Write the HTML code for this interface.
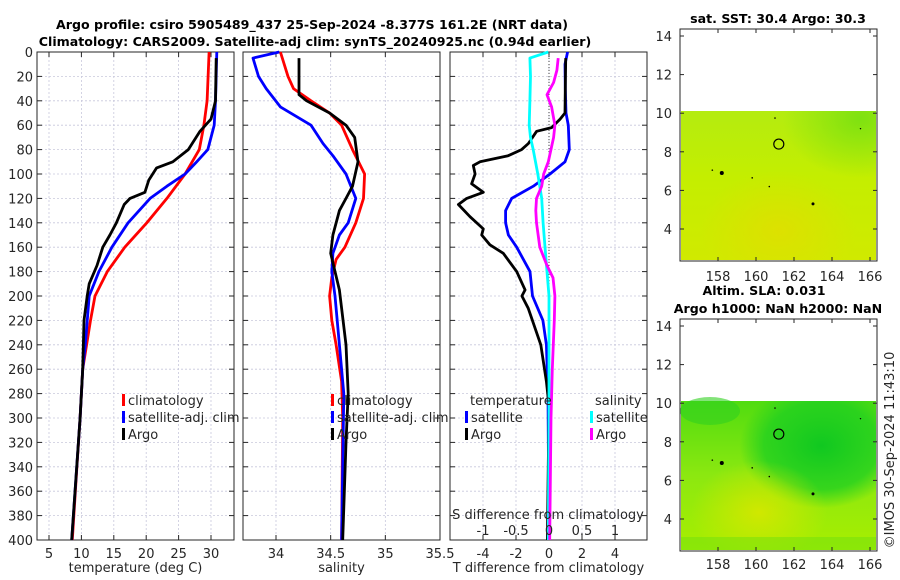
<!DOCTYPE html>
<html><head><meta charset="utf-8"><style>
html,body{margin:0;padding:0;background:#fff}
svg{display:block;font-family:"DejaVu Sans","Liberation Sans",sans-serif}
</style></head><body>
<svg id="fig" width="900" height="580" viewBox="0 0 900 580" xmlns="http://www.w3.org/2000/svg">
<defs>
<linearGradient id="sstBase" x1="0" y1="0" x2="0" y2="1"><stop offset="0" stop-color="#b4ec10"/><stop offset="0.45" stop-color="#c4ee00"/><stop offset="1" stop-color="#d0ea00"/></linearGradient>
<radialGradient id="sstGreen" cx="0.92" cy="0.05" r="0.4"><stop offset="0" stop-color="#78e010" stop-opacity="0.9"/><stop offset="1" stop-color="#78e010" stop-opacity="0"/></radialGradient>
<radialGradient id="sstOrange" cx="0.5" cy="0.8" r="0.4"><stop offset="0" stop-color="#e4dc00" stop-opacity="0.7"/><stop offset="1" stop-color="#e4dc00" stop-opacity="0"/></radialGradient>
<linearGradient id="slaBase" x1="0" y1="0" x2="0" y2="1"><stop offset="0" stop-color="#50dc10"/><stop offset="0.5" stop-color="#8ce810"/><stop offset="1" stop-color="#a8ee00"/></linearGradient>
<radialGradient id="slaGreen" cx="0.72" cy="0.3" r="0.42"><stop offset="0" stop-color="#10c820"/><stop offset="0.7" stop-color="#20d020" stop-opacity="0.8"/><stop offset="1" stop-color="#20d020" stop-opacity="0"/></radialGradient>
<radialGradient id="slaYellow" cx="0.4" cy="0.75" r="0.35"><stop offset="0" stop-color="#d0e800"/><stop offset="1" stop-color="#d0e800" stop-opacity="0"/></radialGradient>
</defs>
<g id="titles" font-weight="bold" font-size="12.6" fill="#000">
<text x="312" y="29" text-anchor="middle">Argo profile: csiro 5905489_437 25-Sep-2024 -8.377S 161.2E (NRT data)</text>
<text x="315" y="46" text-anchor="middle">Climatology: CARS2009. Satellite-adj clim: synTS_20240925.nc (0.94d earlier)</text>
<text x="778" y="23" text-anchor="middle">sat. SST: 30.4 Argo: 30.3</text>
<text x="764" y="295" text-anchor="middle">Altim. SLA: 0.031</text>
<text x="778" y="313" text-anchor="middle">Argo h1000: NaN h2000: NaN</text>
</g>
<text transform="translate(894,450) rotate(-90)" text-anchor="middle" font-size="13" fill="#262626">©IMOS 30-Sep-2024 11:43:10</text>
<g id="plots"></g>
</svg>
<script>
// ---- data ----
const depthTicks = [0,20,40,60,80,100,120,140,160,180,200,220,240,260,280,300,320,340,360,380,400];
const tempTicks = [5,10,15,20,25,30];
const salTicks = [34,34.5,35,35.5];
const salTickLabels = ["34","34.5","35","35.5"];
const tdTicks = [-4,-2,0,2,4];
const sdTicks = [-1,-0.5,0,0.5,1];
const sdTickLabels = ["-1","-0.5","0","0.5","1"];

const tClimDepth = [0,40,60,80,100,120,140,160,180,200,220,240,260,300,340,400];
const tClimVal   = [29.7,29.4,28.9,28.2,26.0,23.2,20.1,16.7,14.0,12.1,11.4,10.8,10.2,9.8,9.3,8.6];
const tSatDepth  = [0,40,60,80,90,100,110,120,140,160,180,200,240,260,300,400];
const tSatVal    = [30.9,30.7,30.5,29.5,27.8,26.0,23.2,20.6,17.2,14.7,12.7,11.2,10.6,10.2,9.8,8.5];
const tArgoDepth = [5,40,55,65,80,90,95,105,115,120,125,140,150,160,175,190,200,220,260,300,400];
const tArgoVal   = [30.8,30.7,30.0,28.3,26.5,24.1,21.6,20.4,19.8,17.5,16.6,15.4,14.4,13.3,12.4,11.2,10.9,10.4,10.2,9.8,8.5];

const sClimDepth = [0,20,30,40,50,60,80,100,120,140,160,170,185,200,220,240,270,300,400];
const sClimVal   = [34.04,34.11,34.16,34.32,34.49,34.60,34.70,34.81,34.80,34.73,34.63,34.55,34.51,34.49,34.51,34.55,34.60,34.61,34.60];
const sSatDepth  = [0,5,20,30,45,60,75,85,100,120,140,150,165,180,200,240,280,400];
const sSatVal    = [34.03,33.79,33.84,33.91,34.04,34.32,34.43,34.52,34.64,34.73,34.66,34.58,34.52,34.51,34.54,34.58,34.62,34.60];
const sArgoDepth = [5,35,40,50,60,70,90,110,120,130,150,165,180,195,210,240,280,320,400];
const sArgoVal   = [34.21,34.21,34.28,34.49,34.64,34.72,34.75,34.70,34.64,34.58,34.52,34.50,34.54,34.58,34.60,34.64,34.66,34.64,34.61];

const dtSatDepth = [0,10,30,50,60,80,90,100,110,120,130,140,150,160,180,200,220,240,280,400];
const dtSatVal   = [1.13,0.97,0.99,1.03,1.17,1.23,0.97,0.06,-0.95,-2.26,-2.63,-2.63,-2.46,-1.96,-1.15,-1.0,-0.37,-0.16,-0.06,0];
const dtArgoDepth = [5,50,55,62,65,75,80,85,90,93,100,108,115,120,125,135,145,150,158,165,180,195,200,210,240,270,290,400];
const dtArgoVal   = [1.01,0.97,0.67,0.16,-0.75,-1.25,-1.66,-2.47,-4.18,-4.59,-4.48,-4.69,-3.98,-4.99,-5.49,-4.79,-3.98,-4.08,-3.58,-2.77,-1.96,-1.45,-1.64,-1.26,-0.5,-0.16,0,-0.1];
const dsSatDepth = [0,5,20,40,60,70,80,100,120,140,160,180,200,300,400];
const dsSatVal   = [-0.01,-0.29,-0.28,-0.29,-0.30,-0.28,-0.24,-0.17,-0.11,-0.09,-0.06,-0.03,0.0,0.0,-0.01];
const dsArgoDepth = [5,15,25,35,45,60,70,90,100,110,120,130,140,160,175,185,200,220,260,300,400];
const dsArgoVal   = [0.14,0.12,0.07,-0.03,0.04,0.09,0.07,-0.01,-0.08,-0.11,-0.19,-0.20,-0.19,-0.14,-0.03,0.06,0.09,0.08,0.05,0.03,0.01];

const latTicks = [4,6,8,10,12,14];
const lonTicks = [158,160,162,164,166];
const argoLon = [161.2];
const argoLat = [8.4];

// ---- helpers ----
const NS='http://www.w3.org/2000/svg';
const root=document.getElementById('plots');
function mk(tag,attrs,parent){const e=document.createElementNS(NS,tag);for(const k in attrs)e.setAttribute(k,attrs[k]);(parent||root).appendChild(e);return e;}
const Y0=52,Y1=540;
const yD=d=>Y0+(d/400)*(Y1-Y0);
function lin(d0,d1,r0,r1){return v=>r0+(v-d0)/(d1-d0)*(r1-r0);}

function panel(name,x0,x1,xs,ticks,labels,showY,title){
  const g=mk('g',{});
  
  
  ticks.forEach(t=>{const x=xs(t);const l=mk('line',{x1:x,x2:x,y1:Y0,y2:Y1,stroke:'#c8c8dc','stroke-width':0.8,'stroke-dasharray':'2,2'},g);
    });
  depthTicks.forEach(d=>{const y=yD(d);if(d>0&&d<400){const l=mk('line',{x1:x0,x2:x1,y1:y,y2:y,stroke:'#c8c8dc','stroke-width':0.8,'stroke-dasharray':'2,2'},g);
    }
    mk('line',{x1:x0,x2:x0+5,y1:y,y2:y,stroke:'#262626'},g);mk('line',{x1:x1-5,x2:x1,y1:y,y2:y,stroke:'#262626'},g);
    if(showY){const t=mk('text',{x:x0-4,y:y+5,'text-anchor':'end','font-size':13,fill:'#262626'},g);t.textContent=d;
      }
  });
  ticks.forEach((t,i)=>{const x=xs(t);mk('line',{x1:x,x2:x,y1:Y1,y2:Y1-5,stroke:'#262626'},g);mk('line',{x1:x,x2:x,y1:Y0,y2:Y0+5,stroke:'#262626'},g);
    const tx=mk('text',{x:x,y:Y1+18,'text-anchor':'middle','font-size':13,fill:'#262626'},g);tx.textContent=labels[i];
    });
  const r=mk('rect',{x:x0,y:Y0,width:x1-x0,height:Y1-Y0,fill:'none',stroke:'#262626','stroke-width':1},g);
  
  const tt=mk('text',{x:(x0+x1)/2,y:572,'text-anchor':'middle','font-size':13,fill:'#262626'},g);tt.textContent=title;
  
  return g;
}
function series(g,name,depths,vals,xs,color){
  const pts=depths.map((d,i)=>xs(vals[i]).toFixed(1)+','+yD(d).toFixed(1)).join(' ');
  const p=mk('polyline',{points:pts,fill:'none',stroke:color,'stroke-width':2.8,'stroke-linejoin':'round'},g);
  
  
}
function legend(g,x,y,color,label,name){
  mk('rect',{x:x,y:y-11,width:3,height:12,fill:color},g);
  const t=mk('text',{x:x+6,y:y,'font-size':13,fill:'#262626'},g);t.textContent=label;
  
}

const xT=lin(5,30,49,211);
const p1=panel('temperature-panel',37,234,xT,tempTicks,tempTicks.map(String),true,'temperature (deg C)');
series(p1,'temp-climatology-line',tClimDepth,tClimVal,xT,'#ff0000');
series(p1,'temp-satellite-line',tSatDepth,tSatVal,xT,'#0000ff');
series(p1,'temp-argo-line',tArgoDepth,tArgoVal,xT,'#000000');
legend(p1,122,405,'#ff0000','climatology','legend-climatology');
legend(p1,122,422,'#0000ff','satellite-adj. clim','legend-satellite');
legend(p1,122,439,'#000000','Argo','legend-argo');

const xS=lin(34,35.5,276,440);
const p2=panel('salinity-panel',243,440,xS,salTicks,salTickLabels,false,'salinity');
series(p2,'sal-climatology-line',sClimDepth,sClimVal,xS,'#ff0000');
series(p2,'sal-satellite-line',sSatDepth,sSatVal,xS,'#0000ff');
series(p2,'sal-argo-line',sArgoDepth,sArgoVal,xS,'#000000');
legend(p2,331,405,'#ff0000','climatology','legend-climatology');
legend(p2,331,422,'#0000ff','satellite-adj. clim','legend-satellite');
legend(p2,331,439,'#000000','Argo','legend-argo');

const xTD=lin(-4,4,483,615);
const xSD=lin(-1,1,483,615);
const p3=panel('difference-panel',450,647,xTD,tdTicks,tdTicks.map(String),false,'T difference from climatology');
const z=mk('line',{x1:xTD(0),x2:xTD(0),y1:Y0,y2:Y1,stroke:'#444','stroke-width':1,'stroke-dasharray':'1,2'},p3);

series(p3,'dt-satellite-line',dtSatDepth,dtSatVal,xTD,'#0000ff');
series(p3,'dt-argo-line',dtArgoDepth,dtArgoVal,xTD,'#000000');
series(p3,'ds-satellite-line',dsSatDepth,dsSatVal,xSD,'#00ffff');
series(p3,'ds-argo-line',dsArgoDepth,dsArgoVal,xSD,'#ff00ff');
{const t=mk('text',{x:470,y:405,'font-size':13,fill:'#262626'},p3);t.textContent='temperature';
 const s=mk('text',{x:595,y:405,'font-size':13,fill:'#262626'},p3);s.textContent='salinity';}
legend(p3,465,422,'#0000ff','satellite','legend-t-satellite');
legend(p3,465,439,'#000000','Argo','legend-t-argo');
legend(p3,590,422,'#00ffff','satellite','legend-s-satellite');
legend(p3,590,439,'#ff00ff','Argo','legend-s-argo');
{const t=mk('text',{x:548,y:519,'text-anchor':'middle','font-size':13,fill:'#262626'},p3);t.textContent='S difference from climatology';
 
 sdTicks.forEach((v,i)=>{const tx=mk('text',{x:xSD(v),y:535,'text-anchor':'middle','font-size':13,fill:'#262626'},p3);tx.textContent=sdTickLabels[i];
  });}

function map(name,top,bottom,dataTop,base,ov1,ov2,labelY,extraGreen){
  const g=mk('g',{});
  
  const x0=680,x1=877;
  const lon=lin(158,166,718,870);
  const lat=lin(14,4,top+7,top+7+(193/232)*(bottom-top));
  mk('rect',{x:x0+1,y:dataTop,width:x1-x0-2,height:bottom-dataTop-1,fill:'url(#'+base+')'},g);
  mk('rect',{x:x0+1,y:dataTop,width:x1-x0-2,height:bottom-dataTop-1,fill:'url(#'+ov1+')'},g);
  mk('rect',{x:x0+1,y:dataTop,width:x1-x0-2,height:bottom-dataTop-1,fill:'url(#'+ov2+')'},g);
  if(extraGreen){mk('ellipse',{cx:x0+30,cy:dataTop+10,rx:30,ry:14,fill:'#30d020','fill-opacity':0.6},g);
    mk('rect',{x:x0+1,y:bottom-14,width:x1-x0-2,height:13,fill:'#70e010','fill-opacity':0.5},g);}
  const b=mk('rect',{x:x0,y:top,width:x1-x0,height:bottom-top,fill:'none',stroke:'#262626'},g);
  
  latTicks.forEach(v=>{const y=lat(v);mk('line',{x1:x0,x2:x0+4,y1:y,y2:y,stroke:'#262626'},g);mk('line',{x1:x1-4,x2:x1,y1:y,y2:y,stroke:'#262626'},g);
    const t=mk('text',{x:x0-8,y:y+5,'text-anchor':'end','font-size':13,fill:'#262626'},g);t.textContent=v;
    });
  lonTicks.forEach(v=>{const x=lon(v);mk('line',{x1:x,x2:x,y1:bottom,y2:bottom-4,stroke:'#262626'},g);mk('line',{x1:x,x2:x,y1:top,y2:top+4,stroke:'#262626'},g);
    const t=mk('text',{x:x,y:labelY,'text-anchor':'middle','font-size':13,fill:'#262626'},g);t.textContent=v;
    });
  const c=mk('circle',{cx:lon(argoLon[0]),cy:lat(argoLat[0]),r:5,fill:'none',stroke:'#000','stroke-width':1.2},g);
  
  [[158.2,6.9,2],[163,5.3,1.5],[157.7,7.05,0.8],[159.8,6.65,0.8],[160.7,6.2,0.8],[161,9.75,0.8],[165.5,9.2,0.7]].forEach(p=>{
    const d=mk('circle',{cx:lon(p[0]),cy:lat(p[1]),r:p[2],fill:'#000'},g);
    });
}
map('sst-map',29,261,111,'sstBase','sstGreen','sstOrange',281,false);
map('sla-map',319,551,401,'slaBase','slaGreen','slaYellow',569,true);
</script>
</body></html>
